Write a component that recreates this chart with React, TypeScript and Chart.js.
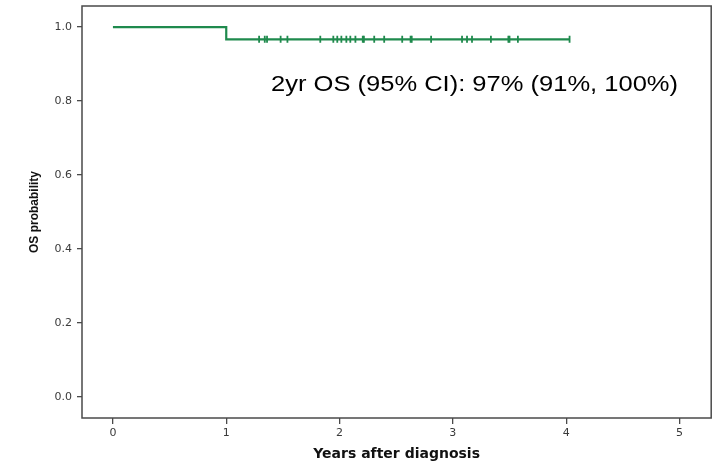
import React, { useEffect, useRef } from "react";
import { Chart, registerables } from "chart.js";

Chart.register(...registerables);

// Kaplan-Meier curve: event times (years) and survival probability
const stepTimes = [0, 1, 4.03];
const stepSurvival = [1, 0.967, 0.967];

// Censored observations (years after diagnosis)
const censorTimes = [
  1.29, 1.34, 1.36, 1.48, 1.54, 1.83, 1.945, 1.98, 2.016, 2.06, 2.095, 2.14,
  2.205, 2.215, 2.306, 2.394, 2.553, 2.627, 2.637, 2.808, 3.081, 3.125, 3.169,
  3.336, 3.49, 3.5, 3.574, 4.03,
];
const censorSurvival = 0.967;

const xTickValues = [0, 1, 2, 3, 4, 5];
const yTickValues = [0, 0.2, 0.4, 0.6, 0.8, 1.0];

const annotationText = "2yr OS (95% CI): 97% (91%, 100%)";
const annotationAt = { x: 1.395, y: 0.843 };

const xTitle = "Years after diagnosis";
const yTitle = "OS probability";

const GREEN = "#1f8a4d";
const TICK_FONT = "'DejaVu Sans', 'Liberation Sans', Arial, sans-serif";

export default function App() {
  const ref = useRef<HTMLCanvasElement | null>(null);

  useEffect(() => {
    if (!ref.current) return;

    const framePlugin = {
      id: "frame",
      afterDatasetsDraw(chart: any) {
        const { ctx, chartArea } = chart;
        ctx.save();
        ctx.strokeStyle = "#4a4a4a";
        ctx.lineWidth = 1.5;
        ctx.strokeRect(
          chartArea.left,
          chartArea.top,
          chartArea.right - chartArea.left,
          chartArea.bottom - chartArea.top
        );
        // annotation text (reference is stretched horizontally)
        const xs = chart.scales.x;
        const ys = chart.scales.y;
        const px = xs.getPixelForValue(annotationAt.x);
        const py = ys.getPixelForValue(annotationAt.y);
        const stretch = 1.16;
        ctx.translate(px, py);
        ctx.scale(stretch, 1);
        ctx.fillStyle = "#000";
        ctx.font = "22px 'Liberation Sans', Arial, sans-serif";
        ctx.textBaseline = "middle";
        ctx.textAlign = "left";
        ctx.fillText(annotationText, 0, 0);
        ctx.restore();
      },
    };

    const chart = new Chart(ref.current, {
      type: "line",
      data: {
        datasets: [
          {
            label: "OS",
            data: stepTimes.map((t, i) => ({ x: t, y: stepSurvival[i] })),
            stepped: "before",
            borderColor: GREEN,
            borderWidth: 2.2,
            pointRadius: 0,
            fill: false,
          },
          {
            label: "Censored",
            type: "scatter",
            data: censorTimes.map((t) => ({ x: t, y: censorSurvival })),
            pointStyle: "line",
            rotation: 90,
            pointRadius: 3.5,
            borderColor: GREEN,
            borderWidth: 1.8,
            showLine: false,
          } as any,
        ],
      },
      plugins: [framePlugin],
      options: {
        animation: false,
        responsive: false,
        maintainAspectRatio: false,
        layout: { padding: { left: 0, right: 2, top: 6, bottom: 0 } },
        plugins: {
          legend: { display: false },
          tooltip: { enabled: false },
        },
        scales: {
          x: {
            type: "linear",
            min: -0.273,
            max: 5.28,
            afterBuildTicks: (scale: any) => {
              scale.ticks = xTickValues.map((v) => ({ value: v }));
            },
            afterFit: (scale: any) => {
              scale.height = 47;
              scale.paddingLeft = 0;
              scale.paddingRight = 0;
            },
            ticks: {
              color: "#3a3a3a",
              font: { family: TICK_FONT, size: 11 },
              padding: 3,
              callback: (v: any) => String(v),
            },
            grid: {
              drawOnChartArea: false,
              drawTicks: true,
              tickLength: 6,
              color: "#4a4a4a",
              lineWidth: 1.3,
            },
            border: { display: false },
            title: {
              display: true,
              text: xTitle,
              color: "#111",
              font: { family: TICK_FONT, size: 14, weight: "bold" },
              padding: { top: 0, bottom: 2 },
            },
          },
          y: {
            type: "linear",
            min: -0.057,
            max: 1.057,
            afterBuildTicks: (scale: any) => {
              scale.ticks = yTickValues.map((v) => ({ value: v }));
            },
            afterFit: (scale: any) => {
              scale.width = 82;
              scale.paddingTop = 0;
              scale.paddingBottom = 0;
            },
            ticks: {
              color: "#3a3a3a",
              font: { family: TICK_FONT, size: 11 },
              padding: 5,
              callback: (v: any) => Number(v).toFixed(1),
            },
            grid: {
              drawOnChartArea: false,
              drawTicks: true,
              tickLength: 5,
              color: "#4a4a4a",
              lineWidth: 1.3,
            },
            border: { display: false },
            title: {
              display: true,
              text: yTitle,
              color: "#111",
              font: { family: "'Liberation Sans', Arial, sans-serif", size: 12, weight: "bold" },
              padding: { top: 27, bottom: 0 },
            },
          },
        },
      },
    } as any);

    return () => chart.destroy();
  }, []);

  return (
    <div style={{ position: "fixed", left: 0, top: 0, width: 717, height: 465, background: "#fff" }}>
      <canvas ref={ref} width={717} height={465} style={{ display: "block" }} />
    </div>
  );
}
